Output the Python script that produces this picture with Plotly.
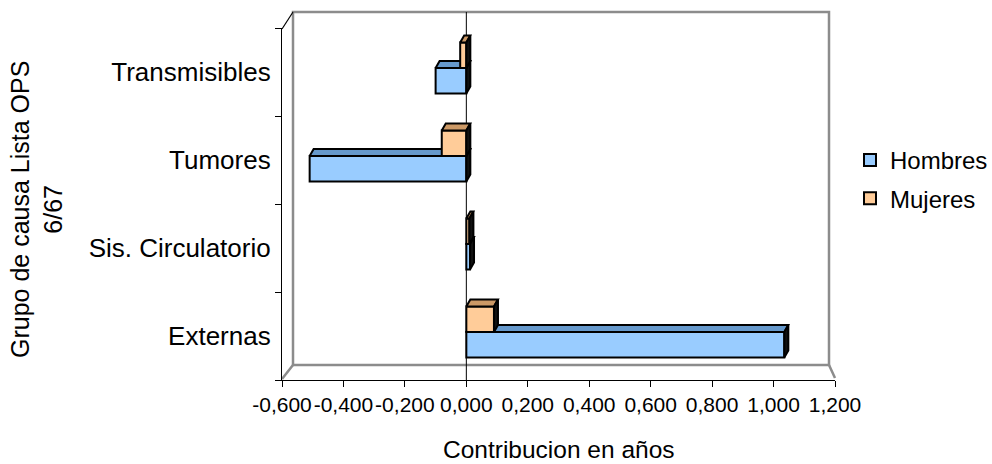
import plotly.graph_objects as go

# ---------------- data ----------------
categories = ["Externas", "Sis. Circulatorio", "Tumores", "Transmisibles"]
hombres = [1.035, 0.012, -0.51, -0.10]
mujeres = [0.09, 0.010, -0.08, -0.02]
x_tick_vals = [-0.6, -0.4, -0.2, 0.0, 0.2, 0.4, 0.6, 0.8, 1.0, 1.2]
x_tick_labels = ["-0,600", "-0,400", "-0,200", "0,000", "0,200", "0,400",
                 "0,600", "0,800", "1,000", "1,200"]

# ---------------- layout geometry (pixels) ----------------
W, H = 992, 464
L, R, T, B = 282, 835, 28, 380          # plot area edges in px
XMIN, XMAX = -0.6, 1.2
YMIN, YMAX = -0.5, 3.5

px_per_x = (R - L) / (XMAX - XMIN)
px_per_y = (B - T) / (YMAX - YMIN)
DX = 4 / px_per_x       # 3D depth, horizontal
DY = 7 / px_per_y       # 3D depth, vertical

def px(xp):
    return (xp - L) / (R - L)

def py(yp):
    return (B - yp) / (B - T)

BAR_W = 0.29
OFF_H = -0.245
OFF_M = 0.045

FONT = "Liberation Sans, Arial, sans-serif"
fig = go.Figure()

def add_series(name, vals, offset, front, top, yaxis):
    ys = list(range(len(categories)))
    fig.add_trace(go.Bar(
        name=name, y=ys, x=vals, orientation="h",
        offset=offset, width=BAR_W, yaxis=yaxis,
        marker=dict(color=front, line=dict(color="black", width=2)),
        legendgroup=name, hovertemplate="%{x:.3f}<extra>" + name + "</extra>",
    ))
    for c, v in zip(ys, vals):
        a, b = min(0, v), max(0, v)
        yb = c + offset
        yt = yb + BAR_W
        # top face
        fig.add_trace(go.Scatter(
            x=[a, b, b + DX, a + DX, a], y=[yt, yt, yt + DY, yt + DY, yt],
            mode="lines", fill="toself", fillcolor=top,
            line=dict(color="black", width=2), yaxis=yaxis,
            showlegend=False, hoverinfo="skip", legendgroup=name))
        # side face
        fig.add_trace(go.Scatter(
            x=[b, b, b + DX, b + DX, b], y=[yb, yt, yt + DY, yb + DY, yb],
            mode="lines", fill="toself", fillcolor="#111111",
            line=dict(color="black", width=2), yaxis=yaxis,
            showlegend=False, hoverinfo="skip", legendgroup=name))

add_series("Hombres", hombres, OFF_H, "#99CCFF", "#6699CC", "y")
add_series("Mujeres", mujeres, OFF_M, "#FFCC99", "#CC9966", "y2")

gray = dict(color="#8C8C8C", width=2.5)
shapes = [
    # back wall
    dict(type="rect", xref="paper", yref="paper", x0=px(293), x1=px(829),
         y0=py(365), y1=py(12), line=gray, layer="below"),
    # depth diagonals
    dict(type="line", xref="paper", yref="paper", x0=px(282), y0=py(29),
         x1=px(293), y1=py(12), line=dict(color="black", width=1.2), layer="below"),
    dict(type="line", xref="paper", yref="paper", x0=px(282), y0=py(379),
         x1=px(293), y1=py(365), line=gray, layer="below"),
    dict(type="line", xref="paper", yref="paper", x0=px(835), y0=py(378),
         x1=px(829), y1=py(365), line=gray, layer="below"),
    # zero line on back wall
    dict(type="line", xref="x", yref="paper", x0=0, x1=0,
         y0=0, y1=py(12), line=dict(color="black", width=1), layer="below"),
]

fig.update_layout(
    width=W, height=H,
    margin=dict(l=L, r=W - R, t=T, b=H - B, autoexpand=False),
    paper_bgcolor="white", plot_bgcolor="rgba(0,0,0,0)",
    barmode="overlay",
    font=dict(family=FONT, color="black"),
    showlegend=True,
    legend=dict(x=px(850), y=py(138), xanchor="left", yanchor="top",
                font=dict(size=24, family=FONT), tracegroupgap=4,
                itemwidth=30, bgcolor="rgba(0,0,0,0)"),
    xaxis=dict(range=[XMIN, XMAX], tickvals=x_tick_vals, ticktext=x_tick_labels,
               tickangle=0,
               showgrid=False, zeroline=False, showline=True, linecolor="black",
               linewidth=1.2, ticks="outside", ticklen=6, tickcolor="black",
               tickfont=dict(size=21, family=FONT), fixedrange=True),
    yaxis=dict(range=[YMIN, YMAX], tickvals=list(range(len(categories))),
               ticktext=categories, showgrid=False, zeroline=False,
               showline=True, linecolor="black", linewidth=1.2, ticks="",
               ticklabelstandoff=5,
               minor=dict(tickvals=[i - 0.5 for i in range(len(categories) + 1)],
                          ticks="outside", ticklen=6, tickcolor="black", showgrid=False),
               tickfont=dict(size=26, family=FONT), fixedrange=True),
    yaxis2=dict(range=[YMIN, YMAX], overlaying="y", visible=False, fixedrange=True),
    shapes=shapes,
    annotations=[
        dict(text="Contribucion en años", xref="paper", yref="paper",
             x=px(559), y=py(449), xanchor="center", yanchor="middle",
             showarrow=False, font=dict(size=24.5, family=FONT)),
        dict(text="Grupo de causa Lista OPS<br>6/67", xref="paper", yref="paper",
             x=px(36), y=py(210), xanchor="center", yanchor="middle",
             textangle=-90, showarrow=False, font=dict(size=25, family=FONT)),
    ],
)

fig.write_html("out.html")
